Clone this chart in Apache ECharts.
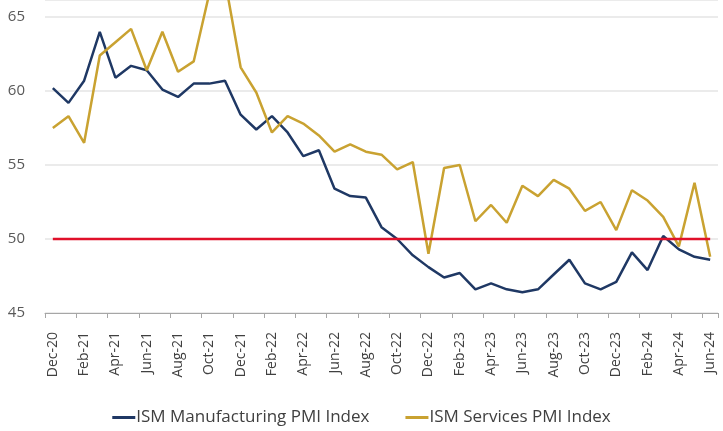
<!DOCTYPE html>
<html>
<head>
<meta charset="utf-8">
<script src="https://cdn.jsdelivr.net/npm/echarts@6/dist/echarts.min.js"></script>
<style>
html,body{margin:0;padding:0;background:#fff;}
#chart{width:723px;height:431px;}
</style>
</head>
<body>
<div id="chart"></div>
<script>
const categories = ["Dec-20","Jan-21","Feb-21","Mar-21","Apr-21","May-21","Jun-21","Jul-21","Aug-21","Sep-21","Oct-21","Nov-21",
  "Dec-21","Jan-22","Feb-22","Mar-22","Apr-22","May-22","Jun-22","Jul-22","Aug-22","Sep-22","Oct-22","Nov-22",
  "Dec-22","Jan-23","Feb-23","Mar-23","Apr-23","May-23","Jun-23","Jul-23","Aug-23","Sep-23","Oct-23","Nov-23",
  "Dec-23","Jan-24","Feb-24","Mar-24","Apr-24","May-24","Jun-24"];
const manufacturing = [60.2,59.2,60.7,64.0,60.9,61.7,61.4,60.1,59.6,60.5,60.5,60.7,
  58.4,57.4,58.3,57.2,55.6,56.0,53.4,52.9,52.8,50.8,50.0,48.9,
  48.1,47.4,47.7,46.6,47.0,46.6,46.4,46.6,47.6,48.6,47.0,46.6,
  47.1,49.1,47.9,50.2,49.3,48.8,48.6];
const services = [57.5,58.3,56.5,62.4,63.3,64.2,61.4,64.0,61.3,62.0,66.6,67.5,
  61.6,59.9,57.2,58.3,57.8,57.0,55.9,56.4,55.9,55.7,54.7,55.2,
  49.0,54.8,55.0,51.2,52.3,51.1,53.6,52.9,54.0,53.4,51.9,52.5,
  50.6,53.3,52.6,51.5,49.5,53.8,48.8];
const thresholdValue = 50;
const seriesNames = ["ISM Manufacturing PMI Index","ISM Services PMI Index"];
const yTicks = {min:45, max:66.15, interval:5};

const font = "'Open Sans', sans-serif";
const chart = echarts.init(document.getElementById('chart'), null, {renderer:'canvas'});
chart.setOption({
  animation:false,
  backgroundColor:'#ffffff',
  grid:{left:45, right:5, top:0, bottom:118, containLabel:false},
  legend:{
    data:seriesNames,
    bottom:0,
    left:'center',
    icon:'rect',
    itemWidth:23,
    itemHeight:3,
    itemGap:36,
    textStyle:{fontFamily:font, fontSize:17, color:'#404040', padding:[0,0,0,-4]}
  },
  xAxis:{
    type:'category',
    data:categories,
    boundaryGap:true,
    axisLine:{lineStyle:{color:'#a6a6a6', width:1}},
    axisTick:{show:true, interval:1, length:5, lineStyle:{color:'#a6a6a6'}},
    axisLabel:{interval:1, rotate:90, fontFamily:font, fontSize:14, color:'#404040', margin:19},
    splitLine:{show:false}
  },
  yAxis:{
    type:'value',
    min:yTicks.min, max:yTicks.max, interval:yTicks.interval,
    axisLine:{show:false},
    axisTick:{show:false},
    axisLabel:{fontFamily:font, fontSize:15, color:'#595959', margin:20, showMaxLabel:false,
      formatter:(v) => (v % yTicks.interval === 0 ? String(v) : '')},
    splitLine:{lineStyle:{color:'#e4e4e4', width:1.5}}
  },
  series:[
    {name:seriesNames[0], type:'line', data:manufacturing, symbol:'none',
     lineStyle:{color:'#1f3864', width:2.5}, itemStyle:{color:'#1f3864'}},
    {name:seriesNames[1], type:'line', data:services, symbol:'none',
     lineStyle:{color:'#c9a231', width:2.5}, itemStyle:{color:'#c9a231'}},
    {name:'50 threshold', type:'line', data:categories.map(() => thresholdValue), symbol:'none',
     lineStyle:{color:'#e0102a', width:2.5}, itemStyle:{color:'#e0102a'}}
  ]
});
</script>
</body>
</html>
